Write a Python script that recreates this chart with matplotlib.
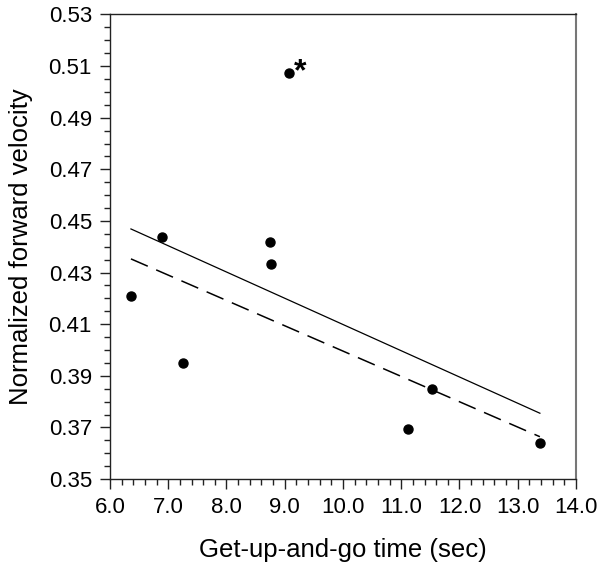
import matplotlib
matplotlib.use("Agg")
import matplotlib.pyplot as plt
from matplotlib.ticker import MultipleLocator, FormatStrFormatter, FixedLocator

plt.rcParams['font.family'] = ['Liberation Sans', 'DejaVu Sans']

# data
gug_time = [6.36, 6.89, 7.25, 8.75, 8.76, 9.07, 11.12, 11.53, 13.38]
fwd_vel = [0.4209, 0.4439, 0.3948, 0.4417, 0.4333, 0.5073, 0.3694, 0.3848, 0.3638]
outlier_index = 5

solid_x = [6.36, 13.38]
solid_y = [0.4469, 0.3755]
dashed_x = [6.36, 13.38]
dashed_y = [0.4353, 0.3664]

y_ticks = [0.35, 0.37, 0.39, 0.41, 0.43, 0.45, 0.47, 0.49, 0.51, 0.53]

fig = plt.figure(figsize=(6.0, 5.73), dpi=100)
ax = fig.add_axes([0.1833, 0.164, 0.7767, 0.8107])

ax.plot(solid_x, solid_y, color='black', lw=0.9)
ax.plot(dashed_x, dashed_y, color='black', lw=1.1, dashes=(12, 6))
ax.plot(gug_time, fwd_vel, 'o', color='black', ms=6.5, zorder=3)

ax.annotate('*', xy=(gug_time[outlier_index], fwd_vel[outlier_index]),
            xytext=(4, -10), textcoords='offset points', fontsize=23,
            fontweight='bold', ha='left', va='bottom')

ax.set_xlim(6.0, 14.0)
ax.set_ylim(0.35, 0.53)
ax.xaxis.set_major_locator(MultipleLocator(1.0))
ax.xaxis.set_minor_locator(MultipleLocator(0.2))
ax.yaxis.set_major_locator(FixedLocator(y_ticks))
ax.yaxis.set_minor_locator(MultipleLocator(0.005))
ax.xaxis.set_major_formatter(FormatStrFormatter('%.1f'))
ax.yaxis.set_major_formatter(FormatStrFormatter('%.2f'))

ax.tick_params(which='major', direction='out', length=7, width=1.0,
               labelsize=16, color='#222222', pad=6)
ax.tick_params(axis='x', which='major', pad=6)
ax.tick_params(which='minor', direction='out', length=4, width=1.0, color='#222222')

for s in ['left', 'bottom', 'top']:
    ax.spines[s].set_color('#222222')
    ax.spines[s].set_linewidth(1.0)
ax.spines['right'].set_color('#777777')
ax.spines['right'].set_linewidth(1.5)

ax.set_xlabel('Get-up-and-go time (sec)', fontsize=18.5, labelpad=14)
ax.set_ylabel('Normalized forward velocity', fontsize=18.5, labelpad=11)

fig.savefig('out.png', dpi=100)
